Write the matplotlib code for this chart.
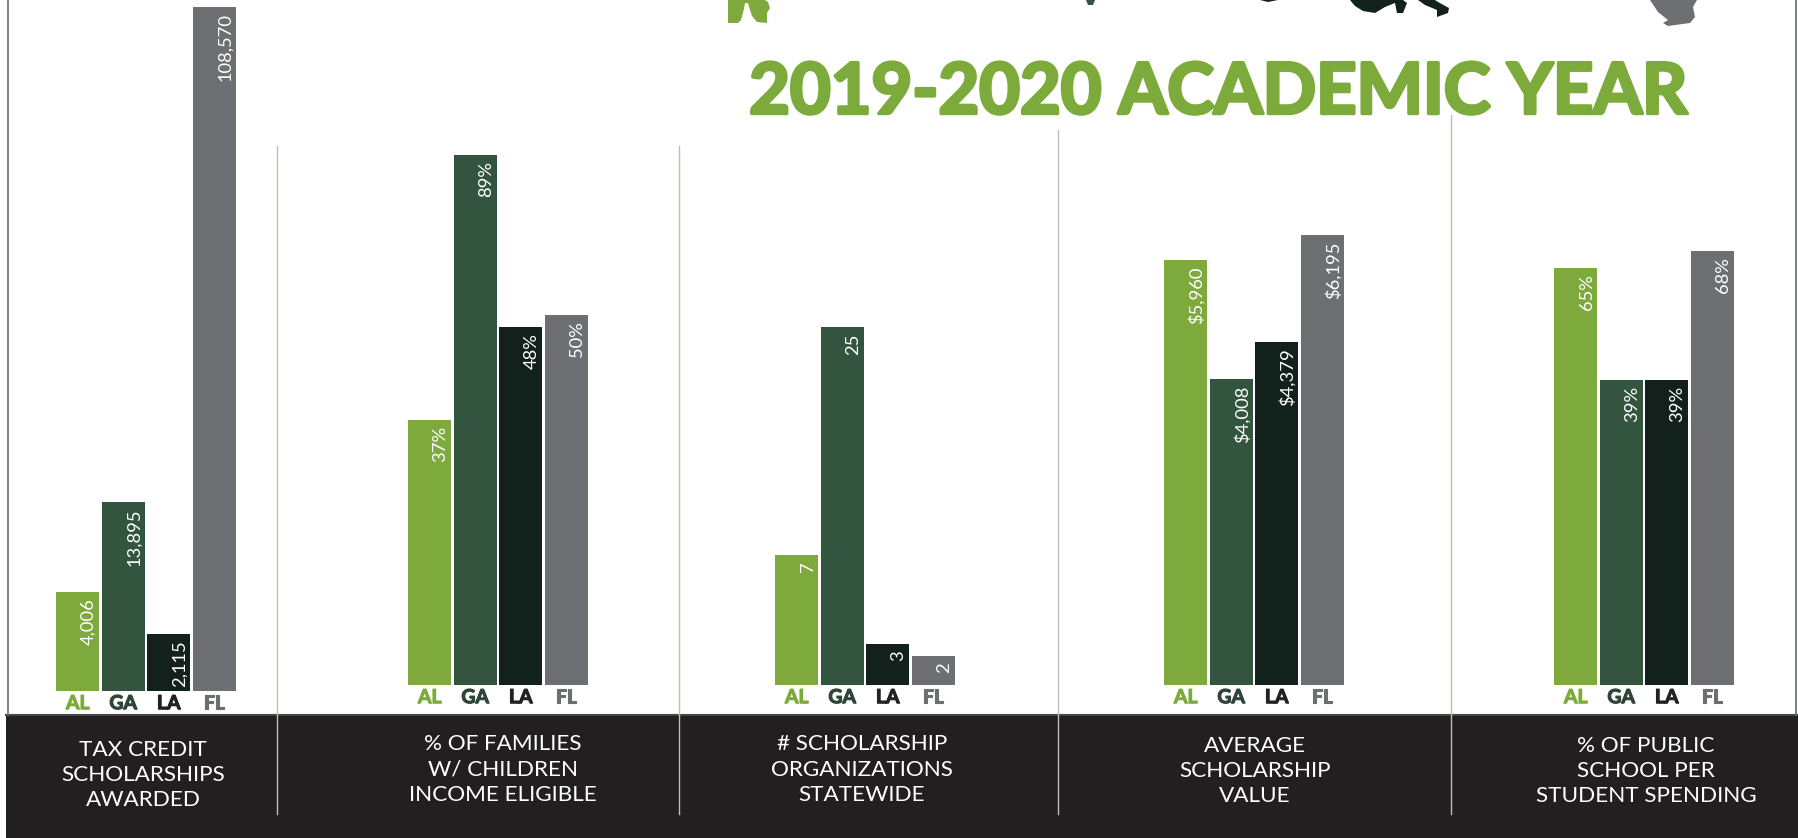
#!/usr/bin/env python3
# -*- coding: utf-8 -*-
import matplotlib
matplotlib.use("Agg")
import matplotlib.pyplot as plt
import matplotlib.patheffects as pe

plt.rcParams['font.family'] = ['Lato', 'DejaVu Sans']

states = ["AL", "GA", "LA", "FL"]
bar_colors = ["#7eaa3d", "#33553f", "#12211b", "#6e6f73"]
state_colors = ["#7dab3b", "#2f4539", "#222222", "#6d6e71"]

# the bars in the original are not to scale, so drawn lengths are read separately
scholarships_len = [99, 189, 57, 684]
families_len = [265, 530, 358, 370]
organizations_len = [130, 358, 41, 29]
value_len = [425, 306, 343, 450]
spending_len = [417, 305, 305, 434]

scholarships_txt = ["4,006", "13,895", "2,115", "108,570"]
families_txt = ["37%", "89%", "48%", "50%"]
organizations_txt = ["7", "25", "3", "2"]
value_txt = ["$5,960", "$4,008", "$4,379", "$6,195"]
spending_txt = ["65%", "39%", "39%", "68%"]

captions = [
    "TAX CREDIT\nSCHOLARSHIPS\nAWARDED",
    "% OF FAMILIES\nW/ CHILDREN\nINCOME ELIGIBLE",
    "# SCHOLARSHIP\nORGANIZATIONS\nSTATEWIDE",
    "AVERAGE\nSCHOLARSHIP\nVALUE",
    "% OF PUBLIC\nSCHOOL PER\nSTUDENT SPENDING",
]
title = "2019-2020 ACADEMIC YEAR"

W, H = 1798, 838
fig = plt.figure(figsize=(W / 100, H / 100), dpi=100, facecolor="white")

# page furniture, in pixels
page = fig.add_axes([0, 0, 1, 1])
page.set_xlim(0, W)
page.set_ylim(H, 0)
page.axis("off")

page.fill_between([6, W], 715, H, color="#231f20", lw=0)
page.plot([6, W], [715, 715], color="#3f4a44", lw=1.5)
page.plot([7.5, 7.5], [0, 715], color="#6a6f6c", lw=1.2)
page.plot([1796, 1796], [0, 715], color="#5f6d68", lw=1.2)

dividers = [(277, 146), (678.5, 146), (1058, 130), (1450.5, 115)]
for x, y0 in dividers:
    page.plot([x, x], [y0, 814], color="#bcc2b2", lw=1)

# bits of the cropped state map at the top edge
green_map = [(728, 0), (728, 23), (738, 23), (741, 20), (744, 9), (745, 3), (748, 3),
             (750, 10), (752, 16), (757, 22), (767, 23), (767, 13), (770, 8), (768, 2), (765, 0)]
dark_map1 = [(1350, 0), (1355, 6), (1363, 11), (1375, 13), (1385, 7), (1395, 3),
             (1397, 13), (1403, 13), (1407, 3), (1403, 0)]
dark_map2 = [(1418, 0), (1425, 5), (1437, 10), (1437, 17), (1448, 13), (1449, 8),
             (1438, 2), (1435, 0)]
dark_map3 = [(1260, 0), (1268, 2), (1278, 0)]
ga_map = [(1086, 0), (1088, 5), (1093, 5), (1095, 0)]
gray_map = [(1650, 0), (1658, 12), (1668, 20), (1663, 23), (1668, 26), (1690, 23),
            (1695, 17), (1693, 7), (1697, 0)]
for shape, col in [(green_map, bar_colors[0]), (dark_map1, bar_colors[2]),
                   (dark_map2, bar_colors[2]), (dark_map3, bar_colors[2]),
                   (ga_map, bar_colors[1]), (gray_map, bar_colors[3])]:
    page.fill([p[0] for p in shape], [p[1] for p in shape], color=col, lw=0)

page.text(1218, 113.5, title, color="#7dab3b", fontsize=50.6, fontweight="bold",
          ha="center", va="baseline",
          path_effects=[pe.withStroke(linewidth=2.5, foreground="#7dab3b")])

# one small axes per panel
lengths = [scholarships_len, families_len, organizations_len, value_len, spending_len]
texts = [scholarships_txt, families_txt, organizations_txt, value_txt, spending_txt]
lefts = [55, 407, 774, 1163, 1553]
baselines = [691, 685, 685, 685, 685]
caption_x = [143, 503, 862, 1255, 1646]
caption_y = [775, 769.5, 769.5, 771, 771]
step = 45.5

for k in range(5):
    ax = fig.add_axes([lefts[k] / W, 1 - baselines[k] / H, 4 * step / W, baselines[k] / H])
    ax.patch.set_alpha(0)
    ax.set_xlim(-0.5, 3.5)
    ax.set_ylim(0, baselines[k])
    ax.bar(range(4), lengths[k], width=0.945, color=bar_colors)
    for spine in ax.spines.values():
        spine.set_visible(False)
    ax.set_yticks([])
    ax.set_xticks(range(4))
    ax.set_xticklabels(states, fontsize=14, fontweight="bold")
    ax.tick_params(axis="x", length=0, pad=3)
    for lab, col in zip(ax.get_xticklabels(), state_colors):
        lab.set_color(col)
        lab.set_path_effects([pe.withStroke(linewidth=0.8, foreground=col)])
    for i in range(4):
        ax.annotate(texts[k][i], (i, lengths[k][i]), xytext=(7.8, -4.5),
                    textcoords="offset points", rotation=90, color="white",
                    fontsize=13.2, ha="center", va="top")
    page.text(caption_x[k], caption_y[k], captions[k], color="white", fontsize=16.2,
              ha="center", va="center", linespacing=1.33)

fig.savefig("out.png", dpi=100)
